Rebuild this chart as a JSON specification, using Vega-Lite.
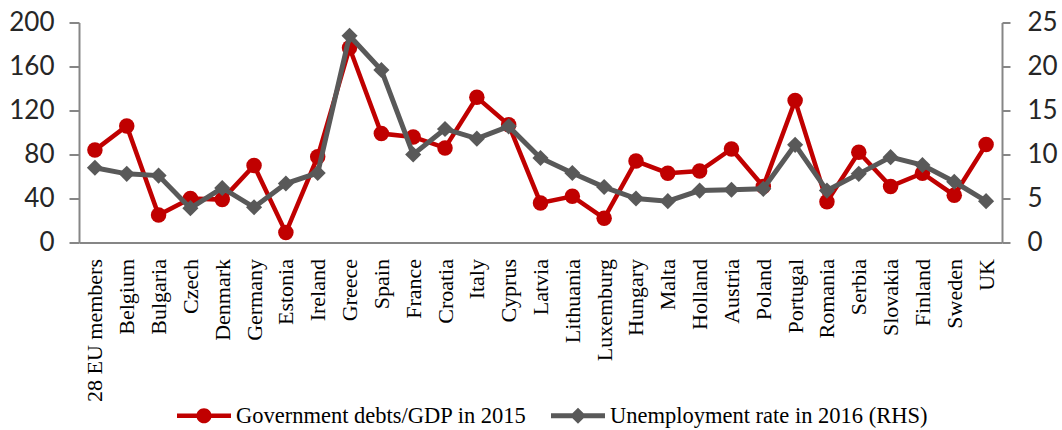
{
  "$schema": "https://vega.github.io/schema/vega-lite/v6.json",
  "width": 923,
  "height": 220,
  "autosize": {"type": "none"},
  "padding": {"left": 79, "top": 22.5, "right": 60, "bottom": 187.5},
  "background": "white",
  "config": {
    "view": {"stroke": null},
    "axis": {
      "domainColor": "#868686",
      "domainWidth": 2,
      "tickColor": "#868686",
      "tickWidth": 2,
      "grid": false,
      "title": null
    }
  },
  "datasets": {
    "eu": [
      {"country": "28 EU members", "series": "Government debts/GDP in 2015", "value": 84},
      {"country": "Belgium", "series": "Government debts/GDP in 2015", "value": 106},
      {"country": "Bulgaria", "series": "Government debts/GDP in 2015", "value": 25},
      {"country": "Czech", "series": "Government debts/GDP in 2015", "value": 40},
      {"country": "Denmark", "series": "Government debts/GDP in 2015", "value": 39},
      {"country": "Germany", "series": "Government debts/GDP in 2015", "value": 70},
      {"country": "Estonia", "series": "Government debts/GDP in 2015", "value": 9},
      {"country": "Ireland", "series": "Government debts/GDP in 2015", "value": 78},
      {"country": "Greece", "series": "Government debts/GDP in 2015", "value": 177},
      {"country": "Spain", "series": "Government debts/GDP in 2015", "value": 99},
      {"country": "France", "series": "Government debts/GDP in 2015", "value": 96},
      {"country": "Croatia", "series": "Government debts/GDP in 2015", "value": 86},
      {"country": "Italy", "series": "Government debts/GDP in 2015", "value": 132},
      {"country": "Cyprus", "series": "Government debts/GDP in 2015", "value": 107},
      {"country": "Latvia", "series": "Government debts/GDP in 2015", "value": 36},
      {"country": "Lithuania", "series": "Government debts/GDP in 2015", "value": 42},
      {"country": "Luxemburg", "series": "Government debts/GDP in 2015", "value": 22},
      {"country": "Hungary", "series": "Government debts/GDP in 2015", "value": 74},
      {"country": "Malta", "series": "Government debts/GDP in 2015", "value": 63},
      {"country": "Holland", "series": "Government debts/GDP in 2015", "value": 65},
      {"country": "Austria", "series": "Government debts/GDP in 2015", "value": 85},
      {"country": "Poland", "series": "Government debts/GDP in 2015", "value": 51},
      {"country": "Portugal", "series": "Government debts/GDP in 2015", "value": 129},
      {"country": "Romania", "series": "Government debts/GDP in 2015", "value": 37},
      {"country": "Serbia", "series": "Government debts/GDP in 2015", "value": 82},
      {"country": "Slovakia", "series": "Government debts/GDP in 2015", "value": 51},
      {"country": "Finland", "series": "Government debts/GDP in 2015", "value": 63},
      {"country": "Sweden", "series": "Government debts/GDP in 2015", "value": 43},
      {"country": "UK", "series": "Government debts/GDP in 2015", "value": 89},
      {"country": "28 EU members", "series": "Unemployment rate in 2016 (RHS)", "value": 8.5},
      {"country": "Belgium", "series": "Unemployment rate in 2016 (RHS)", "value": 7.8},
      {"country": "Bulgaria", "series": "Unemployment rate in 2016 (RHS)", "value": 7.6},
      {"country": "Czech", "series": "Unemployment rate in 2016 (RHS)", "value": 3.9},
      {"country": "Denmark", "series": "Unemployment rate in 2016 (RHS)", "value": 6.2},
      {"country": "Germany", "series": "Unemployment rate in 2016 (RHS)", "value": 4.0},
      {"country": "Estonia", "series": "Unemployment rate in 2016 (RHS)", "value": 6.7},
      {"country": "Ireland", "series": "Unemployment rate in 2016 (RHS)", "value": 7.9},
      {"country": "Greece", "series": "Unemployment rate in 2016 (RHS)", "value": 23.5},
      {"country": "Spain", "series": "Unemployment rate in 2016 (RHS)", "value": 19.6},
      {"country": "France", "series": "Unemployment rate in 2016 (RHS)", "value": 10.0},
      {"country": "Croatia", "series": "Unemployment rate in 2016 (RHS)", "value": 12.9},
      {"country": "Italy", "series": "Unemployment rate in 2016 (RHS)", "value": 11.8},
      {"country": "Cyprus", "series": "Unemployment rate in 2016 (RHS)", "value": 13.2},
      {"country": "Latvia", "series": "Unemployment rate in 2016 (RHS)", "value": 9.6},
      {"country": "Lithuania", "series": "Unemployment rate in 2016 (RHS)", "value": 7.9},
      {"country": "Luxemburg", "series": "Unemployment rate in 2016 (RHS)", "value": 6.3},
      {"country": "Hungary", "series": "Unemployment rate in 2016 (RHS)", "value": 5.0},
      {"country": "Malta", "series": "Unemployment rate in 2016 (RHS)", "value": 4.7},
      {"country": "Holland", "series": "Unemployment rate in 2016 (RHS)", "value": 5.9},
      {"country": "Austria", "series": "Unemployment rate in 2016 (RHS)", "value": 6.0},
      {"country": "Poland", "series": "Unemployment rate in 2016 (RHS)", "value": 6.1},
      {"country": "Portugal", "series": "Unemployment rate in 2016 (RHS)", "value": 11.1},
      {"country": "Romania", "series": "Unemployment rate in 2016 (RHS)", "value": 5.9},
      {"country": "Serbia", "series": "Unemployment rate in 2016 (RHS)", "value": 7.8},
      {"country": "Slovakia", "series": "Unemployment rate in 2016 (RHS)", "value": 9.7},
      {"country": "Finland", "series": "Unemployment rate in 2016 (RHS)", "value": 8.8},
      {"country": "Sweden", "series": "Unemployment rate in 2016 (RHS)", "value": 6.9},
      {"country": "UK", "series": "Unemployment rate in 2016 (RHS)", "value": 4.7}
    ]
  },
  "data": {"name": "eu"},
  "encoding": {
    "x": {
      "field": "country",
      "type": "nominal",
      "sort": null,
      "scale": {"type": "point", "padding": 0.5},
      "axis": {
        "labelAngle": -90,
        "labelFont": "Liberation Serif",
        "labelFontSize": 22,
        "labelColor": "#000000",
        "labelPadding": 16,
        "ticks": false,
        "labelLimit": 300
      }
    }
  },
  "layer": [
    {
      "transform": [{"filter": "datum.series == 'Government debts/GDP in 2015'"}],
      "encoding": {
        "y": {
          "field": "value",
          "type": "quantitative",
          "scale": {"domain": [0, 200], "nice": false, "zero": true},
          "axis": {
            "orient": "left",
            "values": [0, 40, 80, 120, 160, 200],
            "labelFont": "Lato",
            "labelFontSize": 26,
            "labelColor": "#262626",
            "tickSize": 10,
            "labelPadding": 15
          }
        }
      },
      "layer": [
        {"mark": {"type": "line", "color": "#C00000", "strokeWidth": 4.5}},
        {"mark": {"type": "point", "shape": "circle", "filled": true, "opacity": 1, "size": 240, "color": "#C00000"}}
      ]
    },
    {
      "transform": [{"filter": "datum.series == 'Unemployment rate in 2016 (RHS)'"}],
      "encoding": {
        "y": {
          "field": "value",
          "type": "quantitative",
          "scale": {"domain": [0, 25], "nice": false, "zero": true},
          "axis": {
            "orient": "right",
            "values": [0, 5, 10, 15, 20, 25],
            "labelFont": "Lato",
            "labelFontSize": 26,
            "labelColor": "#262626",
            "tickSize": 8,
            "labelPadding": 17
          }
        }
      },
      "layer": [
        {"mark": {"type": "line", "color": "#595959", "strokeWidth": 5}},
        {"mark": {"type": "point", "shape": "diamond", "filled": true, "opacity": 1, "size": 260, "color": "#595959"}},
        {
          "transform": [{"filter": "false"}],
          "mark": {"type": "point", "filled": true, "opacity": 1},
          "encoding": {
            "color": {
              "field": "series",
              "type": "nominal",
              "sort": null,
              "scale": {
                "domain": ["Government debts/GDP in 2015", "Unemployment rate in 2016 (RHS)"],
                "range": ["#C00000", "#595959"]
              },
              "legend": {
                "title": null,
                "orient": "none",
                "direction": "horizontal",
                "legendX": 98,
                "legendY": 366,
                "padding": 0,
                "symbolSize": 2916,
                "symbolStrokeWidth": 0,
                "symbolOpacity": 1,
                "labelFont": "Liberation Serif",
                "labelFontSize": 22.5,
                "labelColor": "#000000",
                "labelLimit": 500,
                "labelOffset": 5,
                "columnPadding": 24
              }
            },
            "shape": {
              "field": "series",
              "type": "nominal",
              "sort": null,
              "scale": {
                "domain": ["Government debts/GDP in 2015", "Unemployment rate in 2016 (RHS)"],
                "range": [
                  "M-1,-0.083L1,-0.083L1,0.083L-1,0.083Z M0.28,0A0.28,0.28,0,1,1,-0.28,0A0.28,0.28,0,1,1,0.28,0Z",
                  "M-1,-0.09L1,-0.09L1,0.09L-1,0.09Z M0,-0.3L0.3,0L0,0.3L-0.3,0Z"
                ]
              },
              "legend": {
                "title": null,
                "orient": "none",
                "direction": "horizontal",
                "legendX": 98,
                "legendY": 366,
                "padding": 0,
                "symbolSize": 2916,
                "symbolStrokeWidth": 0,
                "symbolOpacity": 1,
                "labelFont": "Liberation Serif",
                "labelFontSize": 22.5,
                "labelColor": "#000000",
                "labelLimit": 500,
                "labelOffset": 5,
                "columnPadding": 24
              }
            }
          }
        }
      ]
    }
  ],
  "resolve": {"scale": {"y": "independent"}}
}
